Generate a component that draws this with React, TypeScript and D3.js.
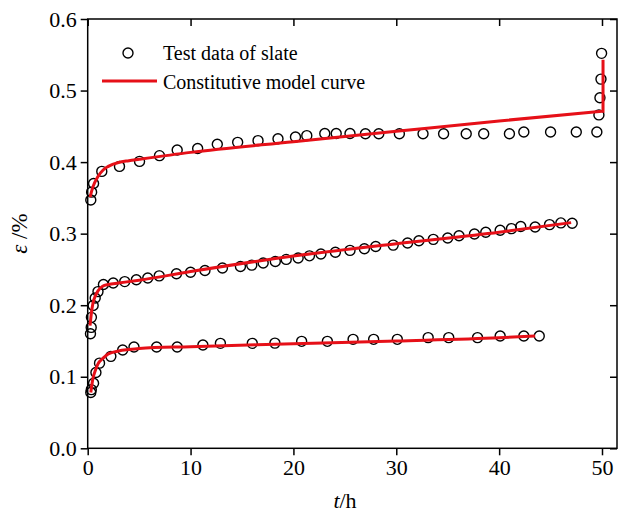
import React, { useEffect, useRef } from 'react';
import * as d3 from 'd3';

// Test data (t in h, strain in %) for the three load levels
const lowT = [0.3, 0.35, 0.57, 0.8, 1.15, 2.25, 3.4, 4.5, 6.7, 8.7, 11.2, 12.9, 16.0, 18.2, 20.8, 23.3, 25.8, 27.8, 30.1, 33.1, 35.1, 37.9, 40.1, 42.4, 43.9];
const lowE = [0.078, 0.082, 0.091, 0.106, 0.119, 0.1285, 0.1374, 0.1416, 0.1416, 0.1416, 0.1444, 0.1467, 0.1467, 0.147, 0.1495, 0.1495, 0.1523, 0.1523, 0.1523, 0.1547, 0.1547, 0.1547, 0.157, 0.157, 0.157];

const midT = [0.27, 0.34, 0.36, 0.53, 0.73, 1.0, 1.53, 2.48, 3.6, 4.73, 5.84, 6.95, 8.63, 10.0, 11.4, 13.1, 14.85, 15.95, 17.06, 18.24, 19.3, 20.46, 21.56, 22.67, 24.08, 25.5, 26.9, 28.0, 29.7, 31.1, 32.2, 33.6, 35.0, 36.1, 37.6, 38.7, 40.1, 41.2, 42.1, 43.5, 44.9, 46.0, 47.1];
const midE = [0.160, 0.169, 0.183, 0.1995, 0.210, 0.219, 0.229, 0.231, 0.233, 0.2355, 0.238, 0.241, 0.244, 0.246, 0.2486, 0.252, 0.254, 0.256, 0.259, 0.261, 0.264, 0.266, 0.269, 0.2715, 0.274, 0.2766, 0.279, 0.282, 0.284, 0.287, 0.290, 0.292, 0.294, 0.297, 0.2995, 0.302, 0.3047, 0.307, 0.310, 0.3093, 0.3126, 0.315, 0.3145];

const highT = [0.3, 0.38, 0.57, 1.37, 3.09, 5.04, 6.98, 8.7, 10.69, 12.6, 14.58, 16.56, 18.5, 20.2, 21.3, 23.05, 24.16, 25.5, 27.0, 28.3, 30.3, 32.6, 34.6, 36.8, 38.5, 41.0, 42.4, 45.0, 47.5, 49.5, 49.7, 49.8, 49.9, 49.96];
const highE = [0.347, 0.358, 0.370, 0.387, 0.394, 0.401, 0.409, 0.417, 0.419, 0.425, 0.4276, 0.430, 0.4327, 0.435, 0.437, 0.440, 0.440, 0.440, 0.4397, 0.4397, 0.4397, 0.4397, 0.4397, 0.4397, 0.4397, 0.4397, 0.442, 0.442, 0.442, 0.442, 0.466, 0.490, 0.516, 0.552];

// Constitutive model curves
const lowCurveT = [0.3, 0.5, 0.75, 1, 1.5, 2, 3, 4, 5, 10, 20, 30, 40, 43.5];
const lowCurveE = [0.078, 0.097, 0.109, 0.118, 0.126, 0.132, 0.136, 0.138, 0.1395, 0.142, 0.146, 0.150, 0.1545, 0.157];
const midCurveT = [0.23, 0.35, 0.5, 0.75, 1, 1.45, 2, 3, 5, 10, 20, 30, 40, 47];
const midCurveE = [0.1715, 0.188, 0.202, 0.213, 0.220, 0.2265, 0.229, 0.231, 0.235, 0.247, 0.2687, 0.286, 0.302, 0.3154];
const highCurveT = [0.23, 0.5, 1, 1.5, 2, 3, 4, 5, 10, 20, 30, 40, 50, 50.1, 50.1];
const highCurveE = [0.351, 0.365, 0.380, 0.389, 0.394, 0.3995, 0.402, 0.404, 0.4136, 0.4285, 0.443, 0.4575, 0.471, 0.471, 0.543];

const xTicks = [0, 10, 20, 30, 40, 50];
const yTicks = [0, 0.1, 0.2, 0.3, 0.4, 0.5, 0.6];

const W = 618;
const H = 515;
const LEFT = 87.7;
const TOP = 19;
const BOTTOM = 448.3;
const RIGHT = 617;
const FONT = '"Liberation Serif", "Times New Roman", serif';
const RED = 'rgb(230, 16, 24)';

const zip = (t: number[], e: number[]) => t.map((v, i) => [v, e[i]] as [number, number]);

export default function App() {
  const ref = useRef<SVGSVGElement>(null);

  useEffect(() => {
    const svg = d3.select(ref.current);
    svg.selectAll('*').remove();
    svg.style('font-family', FONT);

    const x = d3.scaleLinear().domain([0, 50]).range([LEFT, LEFT + 50 * 10.286]);
    const y = d3.scaleLinear().domain([0, 0.6]).range([BOTTOM, TOP]);

    // frame
    svg.append('rect')
      .attr('x', LEFT).attr('y', TOP)
      .attr('width', RIGHT - LEFT).attr('height', BOTTOM - TOP)
      .attr('fill', 'none').attr('stroke', '#000').attr('stroke-width', 1.5);

    const styleAxis = (g: any, labels: boolean) => {
      g.attr('font-family', null).attr('font-size', null);
      g.select('.domain').remove();
      g.selectAll('line').attr('stroke', '#000').attr('stroke-width', 1.5);
      g.selectAll('text')
        .style('font-family', FONT).style('font-size', '22px').attr('fill', '#000')
        .style('display', labels ? null : 'none');
    };

    svg.append('g').attr('transform', `translate(0,${BOTTOM})`)
      .call(d3.axisBottom(x).tickValues(xTicks).tickSize(7).tickPadding(4).tickFormat(d3.format('d')))
      .call((g: any) => styleAxis(g, true));
    svg.append('g').attr('transform', `translate(0,${TOP})`)
      .call(d3.axisBottom(x).tickValues(xTicks).tickSize(7))
      .call((g: any) => styleAxis(g, false));
    svg.append('g').attr('transform', `translate(${LEFT},0)`)
      .call(d3.axisLeft(y).tickValues(yTicks).tickSize(7).tickPadding(4).tickFormat(d3.format('.1f')))
      .call((g: any) => styleAxis(g, true));
    svg.append('g').attr('transform', `translate(${RIGHT},0)`)
      .call(d3.axisLeft(y).tickValues(yTicks).tickSize(7))
      .call((g: any) => styleAxis(g, false));

    // test data
    const pts = [...zip(lowT, lowE), ...zip(midT, midE), ...zip(highT, highE)];
    svg.append('g').selectAll('circle').data(pts).enter().append('circle')
      .attr('cx', (d) => x(d[0])).attr('cy', (d) => y(d[1])).attr('r', 5)
      .attr('fill', 'none').attr('stroke', '#000').attr('stroke-width', 1.4);

    // model curves
    const line = d3.line<[number, number]>().x((d) => x(d[0])).y((d) => y(d[1])).curve(d3.curveMonotoneX);
    const lineStraight = d3.line<[number, number]>().x((d) => x(d[0])).y((d) => y(d[1]));
    [zip(lowCurveT, lowCurveE), zip(midCurveT, midCurveE)].forEach((c) => {
      svg.append('path').attr('d', line(c)).attr('fill', 'none')
        .attr('stroke', RED).attr('stroke-width', 3);
    });
    const hc = zip(highCurveT, highCurveE);
    svg.append('path').attr('d', (line(hc.slice(0, 13)) as string) + lineStraight(hc.slice(12))!.replace('M', 'L'))
      .attr('fill', 'none').attr('stroke', RED).attr('stroke-width', 3);

    // legend
    svg.append('circle').attr('cx', 128).attr('cy', 53).attr('r', 5)
      .attr('fill', 'none').attr('stroke', '#000').attr('stroke-width', 1.4);
    svg.append('line').attr('x1', 102).attr('x2', 157).attr('y1', 81).attr('y2', 81)
      .attr('stroke', RED).attr('stroke-width', 3);
    svg.append('text').attr('x', 163).attr('y', 60).style('font-size', '20px')
      .text('Test data of slate');
    svg.append('text').attr('x', 163).attr('y', 89).style('font-size', '20px')
      .text('Constitutive model curve');

    // axis titles
    const xt = svg.append('text').attr('x', 345).attr('y', 508).attr('text-anchor', 'middle')
      .style('font-size', '22px');
    xt.append('tspan').attr('font-style', 'italic').text('t');
    xt.append('tspan').text('/h');

    const yt = svg.append('text')
      .attr('transform', `translate(27,${(TOP + BOTTOM) / 2}) rotate(-90)`)
      .attr('text-anchor', 'middle').style('font-size', '23px');
    yt.append('tspan').attr('font-style', 'italic').text('ε');
    yt.append('tspan').text(' /%');
  }, []);

  return (
    <svg ref={ref} width={W} height={H}
      style={{ position: 'absolute', left: 0, top: 0, background: '#fff' }} />
  );
}
